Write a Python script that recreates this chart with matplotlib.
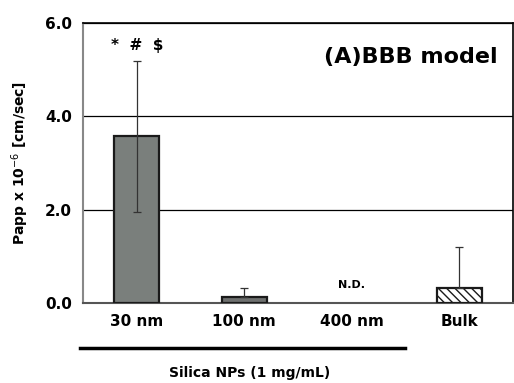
import numpy as np
import matplotlib.pyplot as plt

categories = ["30 nm", "100 nm", "400 nm", "Bulk"]
papp = [3.57, 0.13, 0.0, 0.33]
err_up = [1.62, 0.19, 0.0, 0.87]
err_dn = [1.63, 0.0, 0.0, 0.0]

fig = plt.figure(figsize=(5.14, 3.83), dpi=100)
ax = fig.add_axes([83 / 514, 1 - 303 / 383, 430 / 514, 280 / 383])

x = np.arange(len(categories))
colors = ["#7a7f7c", "#6e706f", "white", "white"]
hatches = [None, None, None, "\\\\\\\\"]
for i in range(len(categories)):
    if categories[i] == "400 nm":
        continue
    ax.bar(x[i], papp[i], width=0.42, color=colors[i], edgecolor="#1a1a1a",
           linewidth=1.6, hatch=hatches[i], zorder=3)
    ax.errorbar(x[i], papp[i], yerr=[[err_dn[i]], [err_up[i]]], fmt="none",
                ecolor="#333333", elinewidth=0.9, capsize=3, capthick=0.9, zorder=4)

ax.set_xlim(-0.5, 3.5)
ax.set_ylim(0, 6.0)
ax.set_yticks([0, 2, 4, 6])
ax.set_yticklabels(["0.0", "2.0", "4.0", "6.0"], fontsize=11, fontweight="bold")
ax.set_xticks(x)
ax.set_xticklabels(categories, fontsize=11, fontweight="bold")
ax.tick_params(axis="both", length=0, pad=8)
ax.yaxis.grid(True, color="black", linewidth=0.9)
ax.set_axisbelow(True)
for s in ["top", "right"]:
    ax.spines[s].set_linewidth(1.2)
ax.spines["left"].set_color("#888888")
ax.spines["left"].set_linewidth(1.5)
ax.spines["bottom"].set_linewidth(1.5)
ax.spines["bottom"].set_color("#555555")

ax.set_ylabel("Papp x 10$^{-6}$ [cm/sec]", fontsize=10, fontweight="bold", labelpad=10)

ax.text(0, 5.52, "*  #  $", ha="center", va="center", fontsize=11, fontweight="bold")
ax.text(2, 0.28, "N.D.", ha="center", va="bottom", fontsize=8, fontweight="bold")
ax.text(0.965, 0.88, "(A)BBB model", transform=ax.transAxes, ha="right", va="center",
        fontsize=16, fontweight="bold", family=["DejaVu Sans"])

fig.add_artist(plt.Line2D([80 / 514, 405 / 514], [1 - 348 / 383] * 2, color="black",
                          linewidth=2.5))
fig.text(250 / 514, 1 - 373 / 383, "Silica NPs (1 mg/mL)", ha="center", va="center",
         fontsize=10, fontweight="bold")

fig.savefig("out.png", dpi=100)
